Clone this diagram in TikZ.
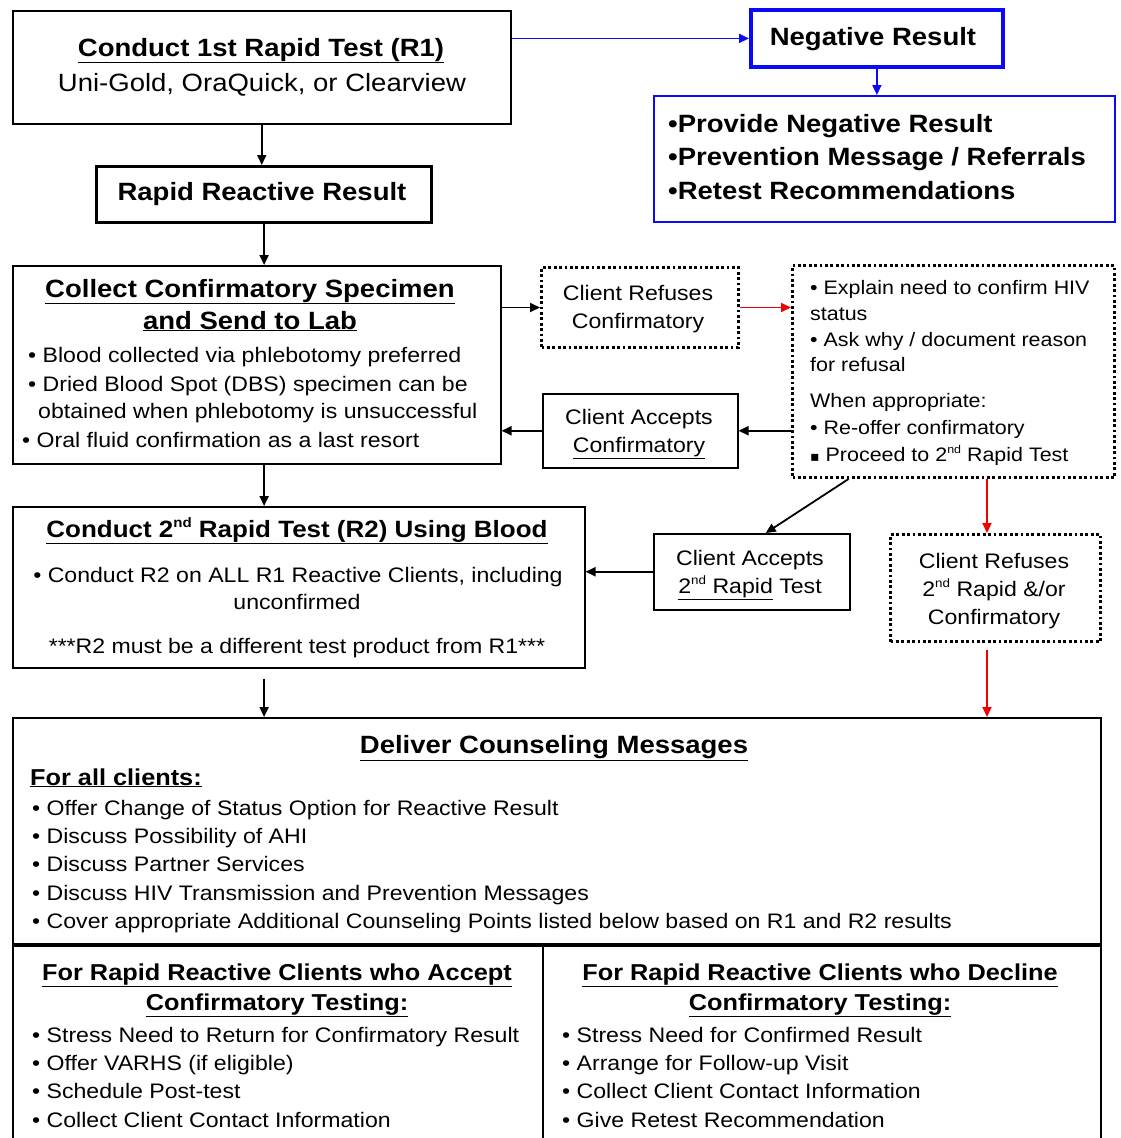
\documentclass[tikz,border=0pt]{standalone}
\usepackage{fontspec}
\setmainfont{Liberation Sans}[FakeStretch=1.1]
\newfontfamily\dvs{DejaVu Sans}
\usetikzlibrary{arrows.meta,calc}
\definecolor{fblue}{RGB}{10,10,245}
\definecolor{fred}{RGB}{240,0,0}
\newcommand\sups[1]{\raisebox{0.75ex}{\scalebox{0.58}{#1}}}
\begin{document}
\begin{tikzpicture}[x=1pt,y=-1pt,
 box/.style={draw, line width=1.5pt, inner sep=0, anchor=north west},
 dotbox/.style={draw, line width=3pt, dash pattern=on 2.8pt off 2.6pt, inner sep=0, anchor=north west},
 hd/.style={inner sep=0, font=\fontsize{25}{30}\selectfont\bfseries},
 hr/.style={inner sep=0, font=\fontsize{25}{30}\selectfont},
 sb/.style={inner sep=0, font=\fontsize{23}{28}\selectfont\bfseries},
 bd/.style={inner sep=0, font=\fontsize{21}{26}\selectfont},
 sm/.style={inner sep=0, font=\fontsize{19.5}{24}\selectfont},
 arr/.style={-{Triangle[length=10pt,width=9pt]}, line width=1.8pt},
]
\clip (0,0) rectangle (1120,1138);
\fill[white] (0,0) rectangle (1120,1138);

% boxes
\node[box, minimum width=498, minimum height=113] (r1) at (12,10) {};
\node[box, line width=3.2pt, minimum width=335, minimum height=56] (rrr) at (95,165) {};
\node[box, draw=fblue, line width=3.8pt, minimum width=252, minimum height=57] (neg) at (749,8) {};
\node[box, draw=fblue, line width=1.6pt, minimum width=461, minimum height=126] (nlist) at (653,95) {};
\node[box, minimum width=488, minimum height=198] (coll) at (12,265) {};
\node[dotbox, minimum width=197, minimum height=80] (ref) at (540,266) {};
\node[dotbox, minimum width=322, minimum height=212] (expl) at (791,264) {};
\node[box, minimum width=195, minimum height=74] (acc) at (542,393) {};
\node[box, minimum width=572, minimum height=161] (r2) at (12,506) {};
\node[box, minimum width=196, minimum height=76] (acc2) at (653,533) {};
\node[dotbox, minimum width=210, minimum height=107] (ref2) at (889,533) {};
\node[box, line width=2pt, minimum width=1088, minimum height=433] (coun) at (12,717) {};
\coordinate (hsplitL) at (12,945);
\coordinate (hsplitR) at (1100,945);
\coordinate (vsplit) at (543,945);
\coordinate (rx) at (987,0);

% dividers in counseling box
\draw[line width=3.2pt] (hsplitL) -- (hsplitR);
\draw[line width=1.6pt] (vsplit) -- (vsplit |- coun.south);

% texts
\node[hd, anchor=base] (t1) at (261,56) {\underline{Conduct 1st Rapid Test (R1)}};
\node[hr, anchor=base] (t2) at (262,91) {Uni-Gold, OraQuick, or Clearview};
\node[hd, anchor=base] (t3) at (262,200) {Rapid Reactive Result};
\node[hd, anchor=base] (t4) at (873,45) {Negative Result};
\node[hd, anchor=base west] (t5) at (668,132) {•Provide Negative Result};
\node[hd, anchor=base west] (t6) at (668,165) {•Prevention Message / Referrals};
\node[hd, anchor=base west] (t7) at (668,199) {•Retest Recommendations};

\node[hd, anchor=base] (t8) at (250,297) {\underline{Collect Confirmatory Specimen}};
\node[hd, anchor=base] (t9) at (250,329) {\underline{and Send to Lab}};
\node[bd, anchor=base west] (t10) at (28,362) {• Blood collected via phlebotomy preferred};
\node[bd, anchor=base west] (t11) at (28,391) {• Dried Blood Spot (DBS) specimen can be};
\node[bd, anchor=base west] (t12) at (38,418) {obtained when phlebotomy is unsuccessful};
\node[bd, anchor=base west] (t13) at (22,447) {• Oral fluid confirmation as a last resort};

\node[bd, anchor=base] (t14) at (638,300) {Client Refuses};
\node[bd, anchor=base] (t15) at (638,328) {Confirmatory};
\node[bd, anchor=base] (t16) at (639,424) {Client Accepts};
\node[bd, anchor=base] (t17) at (639,452) {\underline{Confirmatory}};

\node[sm, anchor=base west] (t18) at (810,294) {• Explain need to confirm HIV};
\node[sm, anchor=base west] (t19) at (810,320) {status};
\node[sm, anchor=base west] (t20) at (810,346) {• Ask why / document reason};
\node[sm, anchor=base west] (t21) at (810,371) {for refusal};
\node[sm, anchor=base west] (t22) at (810,407) {When appropriate:};
\node[sm, anchor=base west] (t23) at (810,434) {• Re-offer confirmatory};
\node[sm, anchor=base west] (t24) at (810,461) {{\dvs\fontsize{14}{16}\selectfont ▪} Proceed to 2\sups{nd} Rapid Test};

\node[inner sep=0, font=\fontsize{23.6}{28}\selectfont\bfseries, anchor=base] (t25) at (297,537) {\underline{Conduct 2\sups{nd} Rapid Test (R2) Using Blood}};
\node[bd, anchor=base] (t26) at (298,582) {• Conduct R2 on ALL R1 Reactive Clients, including};
\node[bd, anchor=base] (t27) at (297,609) {unconfirmed};
\node[bd, anchor=base] (t28) at (297,653) {***R2 must be a different test product from R1***};

\node[bd, anchor=base] (t29) at (750,565) {Client Accepts};
\node[bd, anchor=base] (t30) at (750,593) {\underline{2\sups{nd} Rapid} Test};
\node[bd, anchor=base] (t31) at (994,568) {Client Refuses};
\node[bd, anchor=base] (t32) at (994,596) {2\sups{nd} Rapid \&/or};
\node[bd, anchor=base] (t33) at (994,624) {Confirmatory};

\node[hd, anchor=base] (t34) at (554,753) {\underline{Deliver Counseling Messages}};
\node[sb, anchor=base west] (t35) at (30,785) {\underline{For all clients:}};
\node[bd, anchor=base west] (t36) at (32,815) {• Offer Change of Status Option for Reactive Result};
\node[bd, anchor=base west] (t37) at (32,843) {• Discuss Possibility of AHI};
\node[bd, anchor=base west] (t38) at (32,871) {• Discuss Partner Services};
\node[bd, anchor=base west] (t39) at (32,900) {• Discuss HIV Transmission and Prevention Messages};
\node[bd, anchor=base west] (t40) at (32,928) {• Cover appropriate Additional Counseling Points listed below based on R1 and R2 results};

\node[sb, anchor=base] (t41) at (277,980) {\underline{For Rapid Reactive Clients who Accept}};
\node[sb, anchor=base] (t42) at (277,1010) {\underline{Confirmatory Testing:}};
\node[bd, anchor=base west] (t43) at (32,1042) {• Stress Need to Return for Confirmatory Result};
\node[bd, anchor=base west] (t44) at (32,1070) {• Offer VARHS (if eligible)};
\node[bd, anchor=base west] (t45) at (32,1098) {• Schedule Post-test};
\node[bd, anchor=base west] (t46) at (32,1127) {• Collect Client Contact Information};

\node[sb, anchor=base] (t47) at (820,980) {\underline{For Rapid Reactive Clients who Decline}};
\node[sb, anchor=base] (t48) at (820,1010) {\underline{Confirmatory Testing:}};
\node[bd, anchor=base west] (t49) at (562,1042) {• Stress Need for Confirmed Result};
\node[bd, anchor=base west] (t50) at (562,1070) {• Arrange for Follow-up Visit};
\node[bd, anchor=base west] (t51) at (562,1098) {• Collect Client Contact Information};
\node[bd, anchor=base west] (t52) at (562,1127) {• Give Retest Recommendation};

% connectors
\draw[arr, draw=fblue, fill=fblue] (r1.east |- neg.west) -- (neg.west);
\draw[arr, draw=fblue, fill=fblue] (neg.south) -- (neg.south |- nlist.north);
\draw[arr] (r1.south) -- (r1.south |- rrr.north);
\draw[arr] (rrr.south) -- (rrr.south |- coll.north);
\draw[arr] (coll.east |- ref.west) -- (ref.west);
\draw[arr, draw=fred, fill=fred] (ref.east) -- (ref.east -| expl.west);
\draw[arr] (expl.west |- acc.east) -- (acc.east);
\draw[arr] (acc.west) -- (acc.west -| coll.east);
\draw[arr] (coll.south -| rrr.south) -- (r2.north -| rrr.south);
\draw[arr] ($(expl.south west)!0.177!(expl.south east)$) -- ($(acc2.north)+(14,0)$);
\draw[arr] (acc2.west) -- (acc2.west -| r2.east);
\draw[arr, draw=fred, fill=fred] (expl.south -| rx) -- (ref2.north -| rx);
\draw[arr, draw=fred, fill=fred, shorten <=7pt] (ref2.south -| rx) -- (coun.north -| rx);
\draw[arr, shorten <=10pt] (r2.south -| rrr.south) -- (coun.north -| rrr.south);
\end{tikzpicture}
\end{document}
